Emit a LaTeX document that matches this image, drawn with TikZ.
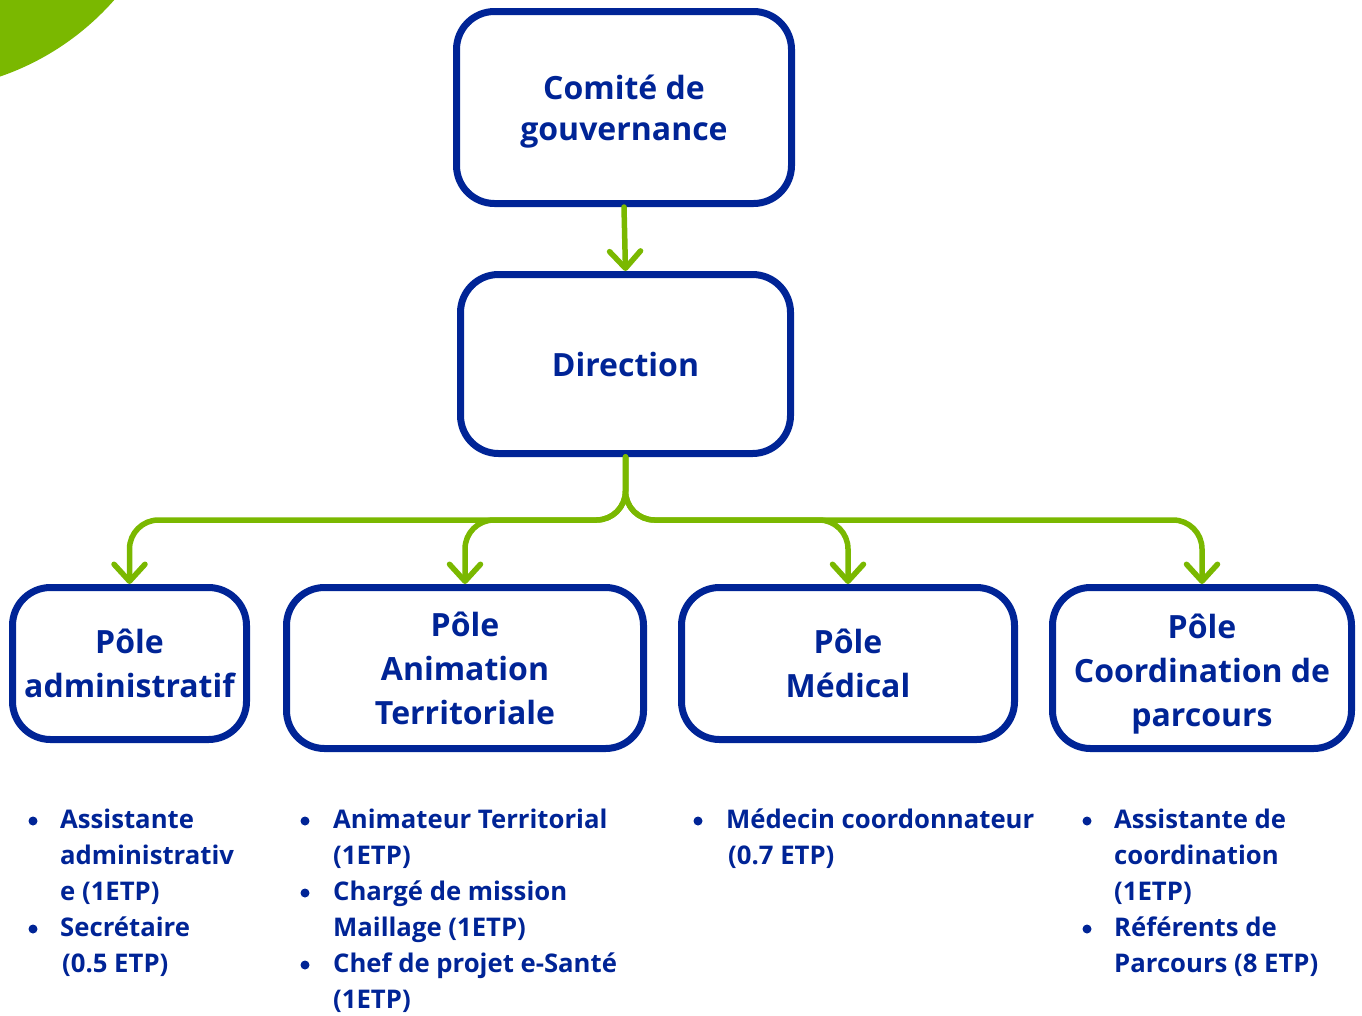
\documentclass[tikz,border=0pt]{standalone}
\usepackage{fontspec}
\setmainfont{Open Sans}
\usetikzlibrary{arrows.meta}
\definecolor{navy}{RGB}{0,36,150}
\definecolor{lime}{RGB}{122,184,0}
\newcommand\toplift{\rule{0pt}{37pt}}
\newcommand\govlift{\rule{0pt}{32pt}}
\tikzset{
  box/.style={draw=navy, line width=7pt, rounded corners=38pt, text=navy, align=center,
    font=\fontsize{32}{44}\selectfont\bfseries, inner sep=0pt},
  arr/.style={draw=lime, line width=5.5pt, line cap=round,
    -{Straight Barb[length=17pt,width=31pt,round]}},
  item/.style={anchor=base west, text=navy, inner sep=0pt, font=\fontsize{25.7}{36}\selectfont\bfseries},
  bul/.style={circle, fill=navy, inner sep=0pt, minimum size=9pt}
}
\begin{document}
\begin{tikzpicture}[x=1pt,y=-1pt]
\useasboundingbox (0,0) rectangle (1362,1015);
\begin{scope}
\clip (0,0) rectangle (1362,1015);
\fill[lime] (-87,-177) circle[radius=268pt];
\end{scope}
% boxes
\node[box, font=\fontsize{32}{41}\selectfont\bfseries, minimum width=335pt, minimum height=192pt] (gov) at (624,107.5) {\govlift Comité de\\gouvernance};
\node[box, minimum width=330pt, minimum height=179pt] (dir) at (625.5,364) {Direction};
\node[box, minimum width=234pt, minimum height=152pt] (adm) at (129.5,663.5) {Pôle\\administratif};
\node[box, minimum width=357pt, minimum height=161pt] (anim) at (465,668) {Pôle\\Animation\\Territoriale};
\node[box, minimum width=333pt, minimum height=152pt] (med) at (848,663.5) {Pôle\\Médical};
\node[box, minimum width=299pt, minimum height=161pt] (coord) at (1202,668) {\toplift Pôle\\Coordination de\\parcours};
% connectors
\coordinate (hub) at (625.5,520);
\draw[arr] (gov.south) -- (dir.north);
\draw[arr, rounded corners=29pt] (dir.south) -- (hub) -| (adm.north);
\draw[arr, rounded corners=29pt] (dir.south) -- (hub) -| (anim.north);
\draw[arr, rounded corners=29pt] (dir.south) -- (hub) -| (med.north);
\draw[arr, rounded corners=29pt] (dir.south) -- (hub) -| (coord.north);
% column 1
\node[bul] (b11) at (33,821) {};
\node[item] (t11) at (60,828) {Assistante};
\node[item] (t12) at (60,864) {administrativ};
\node[item] (t13) at (60,900) {e (1ETP)};
\node[bul] (b12) at (33,929) {};
\node[item] (t14) at (60,936) {Secrétaire};
\node[item] (t15) at (62,972) {(0.5 ETP)};
% column 2
\node[bul] (b21) at (305,821) {};
\node[item] (t21) at (333,828) {Animateur Territorial};
\node[item] (t22) at (333,864) {(1ETP)};
\node[bul] (b22) at (305,893) {};
\node[item] (t23) at (333,900) {Chargé de mission};
\node[item] (t24) at (333,936) {Maillage (1ETP)};
\node[bul] (b23) at (305,965) {};
\node[item] (t25) at (333,972) {Chef de projet e-Santé};
\node[item] (t26) at (333,1008) {(1ETP)};
% column 3
\node[bul] (b31) at (698,821) {};
\node[item] (t31) at (726,828) {Médecin coordonnateur};
\node[item] (t32) at (728,864) {(0.7 ETP)};
% column 4
\node[bul] (b41) at (1087,821) {};
\node[item] (t41) at (1114,828) {Assistante de};
\node[item] (t42) at (1114,864) {coordination};
\node[item] (t43) at (1114,900) {(1ETP)};
\node[bul] (b42) at (1087,929) {};
\node[item] (t44) at (1114,936) {Référents de};
\node[item] (t45) at (1114,972) {Parcours (8 ETP)};
\end{tikzpicture}
\end{document}
